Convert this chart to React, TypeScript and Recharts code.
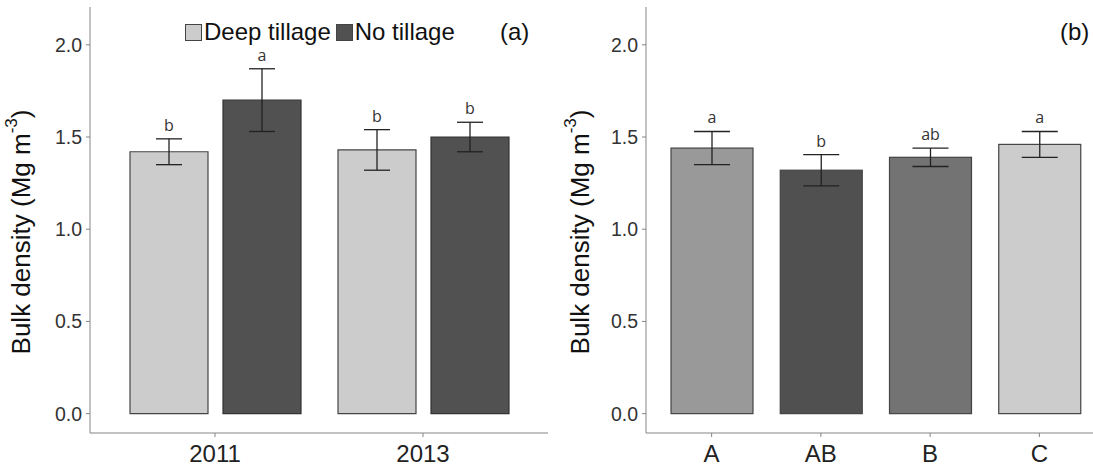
import React from 'react'
import { BarChart, Bar, XAxis, YAxis, ErrorBar, LabelList, Label, Legend } from 'recharts'

// panel (a): tillage x year
const years = ['2011', '2013']
const deepTillage = [1.42, 1.43]
const deepTillageErr = [0.07, 0.11]
const deepTillageLetters = ['b', 'b']
const noTillage = [1.70, 1.50]
const noTillageErr = [0.17, 0.08]
const noTillageLetters = ['a', 'b']
const seriesNames = ['Deep tillage', 'No tillage']
const seriesColors = ['#cccccc', '#515151']

// panel (b): groups
const groups = ['A', 'AB', 'B', 'C']
const groupDensity = [1.44, 1.32, 1.39, 1.46]
const groupErr = [0.09, 0.085, 0.05, 0.07]
const groupLetters = ['a', 'b', 'ab', 'a']
const groupColors = ['#999999', '#505050', '#737373', '#cccccc']

const yTicks = [0, 0.5, 1.0, 1.5, 2.0]
const yDomain = [-0.105, 2.205]

const dataA = years.map((year, i) => ({
  year,
  deep: deepTillage[i],
  deepErr: deepTillageErr[i],
  deepLetter: deepTillageLetters[i],
  no: noTillage[i],
  noErr: noTillageErr[i],
  noLetter: noTillageLetters[i]
}))

const dataB = groups.map((group, i) => ({
  group,
  value: groupDensity[i],
  err: groupErr[i],
  letter: groupLetters[i],
  color: groupColors[i]
}))

const FONT = '"Liberation Sans", Arial, sans-serif'
const FRAME = '#858585'

const yLabel = (cx: number) => (props: any) => {
  const { y, height } = props.viewBox
  const cy = y + height / 2 + 12
  return (
    <text
      x={cx}
      y={cy}
      transform={`rotate(-90 ${cx} ${cy})`}
      textAnchor="middle"
      dominantBaseline="central"
      fontSize={26}
      fontFamily={FONT}
      fill="#111"
    >
      Bulk density (Mg m<tspan dy={-10} fontSize={17}>-3</tspan>
      <tspan dy={10}>)</tspan>
    </text>
  )
}

const renderLetter = (props: any) => {
  const { x, y, width, value } = props
  return (
    <text x={x + width / 2} y={y - 8} textAnchor="middle" fontSize={16} fontFamily='"Open Sans", sans-serif' fill="#333">
      {value}
    </text>
  )
}

const renderLegend = () => (
  <div style={{ display: 'flex', alignItems: 'center', fontFamily: FONT, fontSize: 24, color: '#111' }}>
    {seriesNames.map((name, i) => (
      <div key={name} style={{ display: 'flex', alignItems: 'center', marginRight: 5 }}>
        <span style={{ width: 15, height: 15, background: seriesColors[i], border: '1px solid #444', marginRight: 2 }} />
        <span>{name}</span>
      </div>
    ))}
  </div>
)

const yAxisProps = {
  domain: yDomain,
  ticks: yTicks,
  type: 'number' as const,
  allowDataOverflow: true,
  width: 60,
  tickFormatter: (v: number) => v.toFixed(1),
  tick: { fill: '#333', fontSize: 19.5, fontFamily: FONT },
  tickSize: 4,
  tickMargin: 4,
  tickLine: { stroke: FRAME },
  axisLine: { stroke: FRAME }
}

const xTick = { fill: '#222', fontSize: 24, fontFamily: FONT }

export default function App() {
  return (
    <div style={{ position: 'absolute', left: 0, top: 0, width: 1093, height: 468, overflow: 'hidden', background: '#fff' }}>
      <div style={{ position: 'absolute', left: 0, top: 0 }}>
        <BarChart width={560} height={468} data={dataA} margin={{ top: 7, right: 12, bottom: 5, left: 30 }} barSize={78} barGap={15}>
          <XAxis dataKey="year" padding={{ left: 21, right: 21 }} height={30} tick={xTick} tickSize={4} tickMargin={8} tickLine={{ stroke: FRAME }} axisLine={{ stroke: FRAME }} />
          <XAxis xAxisId="top" dataKey="year" orientation="top" height={0} tick={false} tickLine={false} axisLine={{ stroke: FRAME }} />
          <YAxis {...yAxisProps}>
            <Label content={yLabel(21)} />
          </YAxis>
          <YAxis yAxisId="right" orientation="right" width={0} tick={false} tickLine={false} axisLine={{ stroke: FRAME }} />
          <Legend content={renderLegend} verticalAlign="middle" align="center" wrapperStyle={{ position: 'absolute', top: 18, left: 185, width: 'auto' }} />
          <Bar dataKey="deep" stackId="deep" fill={seriesColors[0]} stroke="#444" strokeWidth={1.2} isAnimationActive={false}>
            <ErrorBar dataKey="deepErr" width={13} stroke="#222" strokeWidth={1.3} />
          </Bar>
          <Bar dataKey="deepErr" stackId="deep" fill="transparent" isAnimationActive={false}>
            <LabelList dataKey="deepLetter" content={renderLetter} />
          </Bar>
          <Bar dataKey="no" stackId="no" fill={seriesColors[1]} stroke="#333" strokeWidth={1.2} isAnimationActive={false}>
            <ErrorBar dataKey="noErr" width={13} stroke="#222" strokeWidth={1.3} />
          </Bar>
          <Bar dataKey="noErr" stackId="no" fill="transparent" isAnimationActive={false}>
            <LabelList dataKey="noLetter" content={renderLetter} />
          </Bar>
        </BarChart>
      </div>
      <div style={{ position: 'absolute', left: 555, top: 0 }}>
        <BarChart width={560} height={468} data={dataB} margin={{ top: 7, right: 10, bottom: 5, left: 31 }} barSize={82}>
          <XAxis dataKey="group" padding={{ left: 11, right: 11 }} height={30} tick={xTick} tickSize={4} tickMargin={8} tickLine={{ stroke: FRAME }} axisLine={{ stroke: FRAME }} />
          <XAxis xAxisId="top" dataKey="group" orientation="top" height={0} tick={false} tickLine={false} axisLine={{ stroke: FRAME }} />
          <YAxis {...yAxisProps}>
            <Label content={yLabel(25)} />
          </YAxis>
          <Bar dataKey="value" stackId="g" stroke="#444" strokeWidth={1.2} isAnimationActive={false}
            shape={(p: any) => <rect x={p.x} y={p.y} width={p.width} height={p.height} fill={p.payload.color} stroke="#444" strokeWidth={1.2} />}>
            <ErrorBar dataKey="err" width={18} stroke="#222" strokeWidth={1.3} />
          </Bar>
          <Bar dataKey="err" stackId="g" fill="transparent" isAnimationActive={false}>
            <LabelList dataKey="letter" content={renderLetter} />
          </Bar>
        </BarChart>
      </div>
      <div style={{ position: 'absolute', left: 500, top: 18, fontFamily: FONT, fontSize: 24, color: '#111' }}>(a)</div>
      <div style={{ position: 'absolute', left: 1060, top: 18, fontFamily: FONT, fontSize: 24, color: '#111' }}>(b)</div>
    </div>
  )
}
